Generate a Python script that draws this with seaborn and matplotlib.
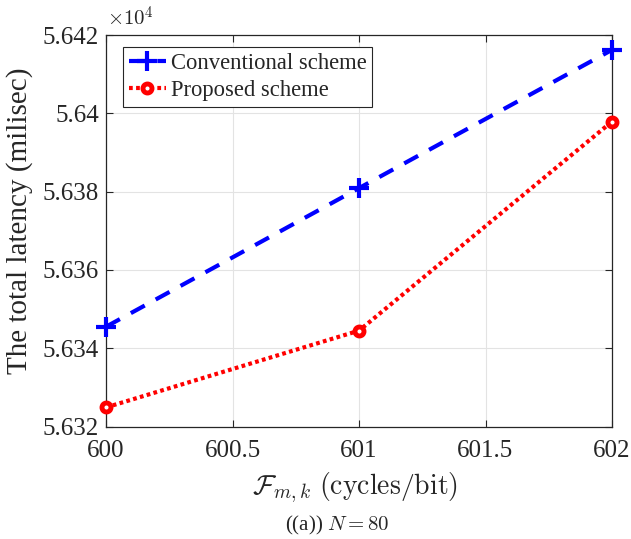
import matplotlib
matplotlib.use("Agg")
import matplotlib.pyplot as plt
import seaborn as sns
import pandas as pd

x_values = [600, 601, 602]
conventional = [5.63455, 5.63809, 5.64162]   # x 10^4 ms
proposed = [5.63249, 5.63445, 5.63979]       # x 10^4 ms
series_names = ["Conventional scheme", "Proposed scheme"]
x_ticks = [600, 600.5, 601, 601.5, 602]
x_tick_labels = ["600", "600.5", "601", "601.5", "602"]
y_ticks = [5.632, 5.634, 5.636, 5.638, 5.640, 5.642]
y_tick_labels = ["5.632", "5.634", "5.636", "5.638", "5.64", "5.642"]

sns.set_theme(style="ticks")
plt.rcParams["font.family"] = ["Liberation Serif", "DejaVu Serif"]
plt.rcParams["mathtext.fontset"] = "cm"

df = pd.DataFrame({
    "x": x_values * 2,
    "y": conventional + proposed,
    "scheme": [series_names[0]] * 3 + [series_names[1]] * 3,
})

W, H = 631, 539
fig = plt.figure(figsize=(W / 100, H / 100), dpi=100)
left, right, top, bottom = 106, 612, 35, 426.6
ax = fig.add_axes([left / W, 1 - bottom / H, (right - left) / W, (bottom - top) / H])

sns.lineplot(data=df[df.scheme == series_names[0]], x="x", y="y", ax=ax,
             color="#0000ff", linestyle=(0, (3.8, 3.0)), linewidth=3,
             marker="+", markersize=15, markeredgewidth=3,
             markeredgecolor="#0000ff", markerfacecolor="#0000ff",
             label=series_names[0], clip_on=False, zorder=3)
sns.lineplot(data=df[df.scheme == series_names[1]], x="x", y="y", ax=ax,
             color="#ff0000", linestyle=(0, (0.9, 0.8)), linewidth=3,
             marker="o", markersize=6.5, markeredgewidth=3.5,
             markerfacecolor="white", markeredgecolor="#ff0000",
             label=series_names[1], clip_on=False, zorder=3)

ax.set_xlim(600, 602)
ax.set_ylim(5.632, 5.642)
ax.set_xticks(x_ticks)
ax.set_xticklabels(x_tick_labels)
ax.set_yticks(y_ticks)
ax.set_yticklabels(y_tick_labels)
ax.tick_params(direction="in", length=5, width=0.8, labelsize=18, colors="#262626",
               top=True, right=True)
ax.tick_params(axis="x", pad=10)
ax.tick_params(axis="y", pad=5)
for s in ax.spines.values():
    s.set_color("#262626")
    s.set_linewidth(0.9)
ax.grid(True, color="#e3e3e3", linewidth=0.8)
ax.set_axisbelow(True)
ax.set_xlabel("")
ax.set_ylabel("")

fig.text(355.5 / W, 1 - 488 / H, r"$\mathcal{F}_{m,k}\ \mathrm{(cycles/bit)}$",
         fontsize=20, color="#262626", ha="center", va="center")
fig.text(20 / W, 1 - 221 / H, "The total latency (milisec)", rotation=90,
         fontsize=21, color="#262626", ha="center", va="center")
fig.text(107 / W, 1 - 31 / H, r"$\times10^4$", fontsize=15,
         color="#262626", ha="left", va="bottom")
fig.text(337.5 / W, 1 - 525 / H, r"((a)) $N=80$", ha="center", va="center",
         fontsize=15, color="#262626")

leg = ax.legend(loc="upper left", bbox_to_anchor=((123 - left) / (right - left), (bottom - 47) / (bottom - top)),
                fontsize=16.3, frameon=True, fancybox=False, edgecolor="#262626",
                handlelength=1.65, handletextpad=0.2, borderpad=0.25,
                labelspacing=0.28, borderaxespad=0)
leg.get_frame().set_linewidth(0.8)
leg.get_frame().set_alpha(1)

fig.savefig("out.png", dpi=100)
